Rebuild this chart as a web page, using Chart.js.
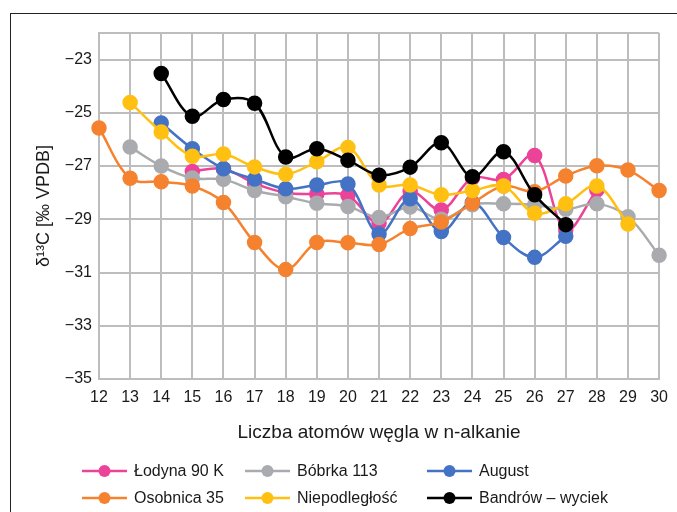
<!DOCTYPE html>
<html>
<head>
<meta charset="utf-8">
<script src="https://cdn.jsdelivr.net/npm/chart.js@4/dist/chart.umd.min.js"></script>
<style>
  html, body { margin: 0; padding: 0; background: #fff; overflow: hidden; }
  #frame { position: absolute; left: 10px; top: 13px; width: 800px; height: 600px; border: 1.5px solid #222; }
  #wrap { position: absolute; left: 0; top: 0; width: 677px; height: 512px; }
</style>
</head>
<body>
<div id="frame"></div>
<div id="wrap"><canvas id="c" width="677" height="512"></canvas></div>
<script>
// ---- data ----
const carbonNumbers = [12,13,14,15,16,17,18,19,20,21,22,23,24,25,26,27,28,29,30];
const yTickValues = [-35,-33,-31,-29,-27,-25,-23];
const seriesNames = ['Łodyna 90 K','Bóbrka 113','August','Osobnica 35','Niepodległość','Bandrów – wyciek'];
const seriesColors = ['#EC4399','#A9ABAE','#4472C4','#F5822F','#FFC012','#000000'];

const lodyna90K   = [null,null,null,-27.2,-27.1,-27.65,-28.0,-28.05,-28.1,-29.15,-27.95,-28.65,-27.45,-27.5,-26.6,-29.4,-27.9,null,null];
const bobrka113   = [null,-26.28,-27.0,-27.45,-27.5,-27.92,-28.15,-28.4,-28.52,-28.93,-28.54,-29.0,-28.45,-28.42,-28.46,-28.62,-28.42,-28.9,-30.35];
const august      = [null,null,-25.38,-26.35,-27.1,-27.49,-27.85,-27.71,-27.67,-29.55,-28.23,-29.46,-28.37,-29.68,-30.43,-29.64,null,null,null];
const osobnica35  = [-25.57,-27.46,-27.59,-27.75,-28.37,-29.87,-30.89,-29.87,-29.88,-29.95,-29.35,-29.1,-28.4,-27.75,-27.96,-27.37,-26.99,-27.15,-27.92];
const niepodleglosc = [null,-24.61,-25.72,-26.63,-26.55,-27.03,-27.31,-26.84,-26.3,-27.71,-27.71,-28.08,-27.92,-27.75,-28.77,-28.42,-27.75,-29.18,null];
const bandrowWyciek = [null,null,-23.52,-25.13,-24.5,-24.64,-26.66,-26.35,-26.78,-27.34,-27.04,-26.12,-27.4,-26.46,-28.08,-29.2,null,null,null];

const seriesValues = [lodyna90K, bobrka113, august, osobnica35, niepodleglosc, bandrowWyciek];

const FONT = "'Liberation Sans', Arial, sans-serif";

const datasets = seriesNames.map((name, i) => ({
  label: name,
  data: seriesValues[i],
  borderColor: seriesColors[i],
  backgroundColor: seriesColors[i],
  pointBackgroundColor: seriesColors[i],
  pointBorderColor: seriesColors[i],
  borderWidth: 2.5,
  pointRadius: 6.5,
  pointHoverRadius: 6.5,
  tension: 0.35,
  spanGaps: false,
  order: seriesNames.length - i
}));

// custom legend in three aligned columns
const gridLegend = {
  id: 'gridLegend',
  afterDraw(chart) {
    const ctx = chart.ctx;
    const colX = [82, 245, 427];
    const rowY = [471, 498];
    ctx.save();
    chart.data.datasets.forEach((ds, i) => {
      const col = i % 3, row = Math.floor(i / 3);
      const x = colX[col], y = rowY[row];
      ctx.strokeStyle = ds.borderColor;
      ctx.lineWidth = 2.5;
      ctx.beginPath(); ctx.moveTo(x, y); ctx.lineTo(x + 45, y); ctx.stroke();
      ctx.fillStyle = ds.borderColor;
      ctx.beginPath(); ctx.arc(x + 22.5, y, 6, 0, Math.PI * 2); ctx.fill();
      ctx.fillStyle = '#1a1a1a';
      ctx.font = '16px ' + FONT;
      ctx.textBaseline = 'middle';
      ctx.textAlign = 'left';
      ctx.fillText(ds.label, x + 52, y + 1);
    });
    ctx.restore();
  }
};

new Chart(document.getElementById('c'), {
  type: 'line',
  data: { labels: carbonNumbers, datasets },
  plugins: [gridLegend],
  options: {
    responsive: false,
    animation: false,
    events: [],
    layout: { padding: { left: 0, top: 33, right: 10, bottom: 63 } },
    plugins: { legend: { display: false }, tooltip: { enabled: false } },
    scales: {
      x: {
        type: 'category',
        offset: false,
        grid: { color: '#BDBDBD', lineWidth: 2, drawTicks: false },
        border: { color: '#BDBDBD', width: 2 },
        ticks: { color: '#1a1a1a', font: { family: FONT, size: 16 }, padding: 9, autoSkip: false, maxRotation: 0 },
        title: { display: true, text: 'Liczba atomów węgla w n-alkanie', color: '#1a1a1a',
                 font: { family: FONT, size: 19 }, padding: { top: 0, bottom: 5 } },
        afterFit(scale) { scale.height = 70; }
      },
      y: {
        type: 'linear',
        min: -35, max: -22,
        grid: { color: '#BDBDBD', lineWidth: 2, drawTicks: false },
        border: { color: '#BDBDBD', width: 2 },
        afterBuildTicks(scale) {
          scale.ticks = yTickValues.concat([-22]).map(v => ({ value: v }));
        },
        ticks: {
          color: '#1a1a1a', font: { family: FONT, size: 16 }, padding: 7,
          callback: (v) => v === -22 ? '' : String(v).replace('-', '\u2212')
        },
        title: { display: true, text: 'δ¹³C [‰ VPDB]', color: '#1a1a1a',
                 font: { family: FONT, size: 18 }, padding: { top: 33, bottom: 0 } },
        afterFit(scale) { scale.width = 99; }
      }
    }
  }
});
</script>
</body>
</html>
